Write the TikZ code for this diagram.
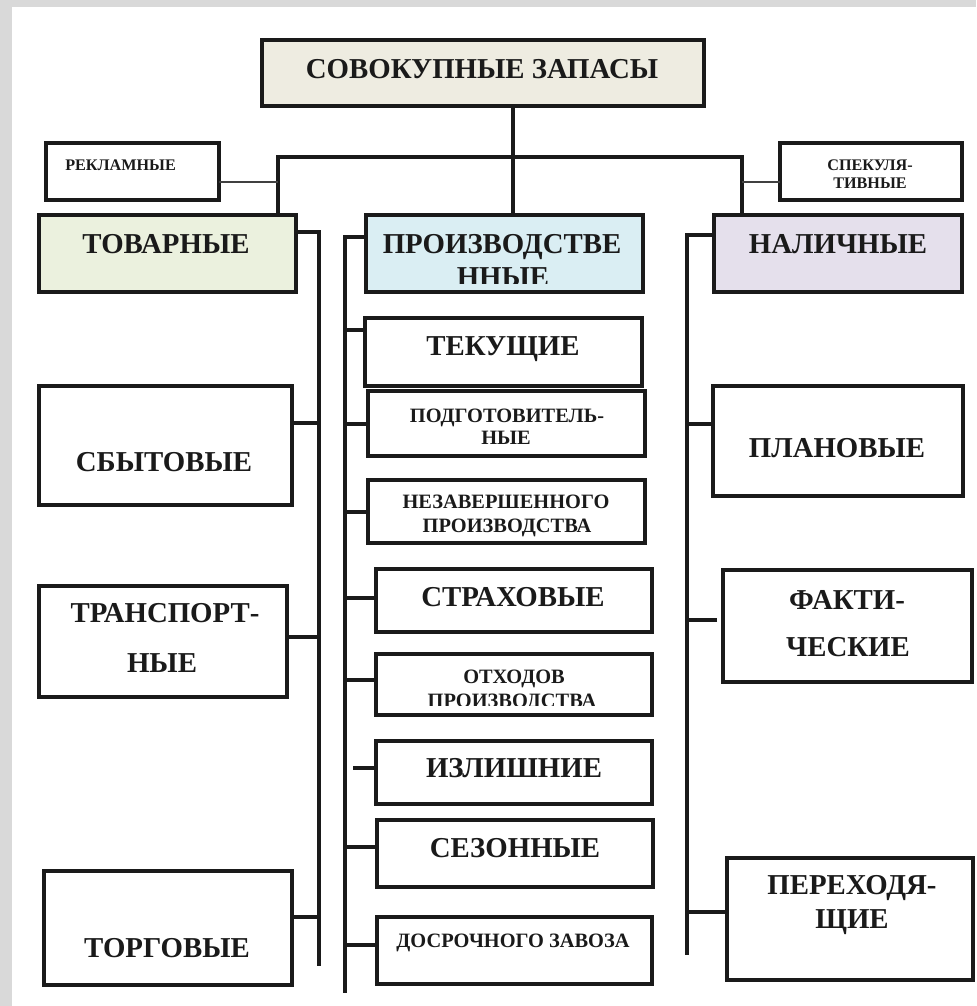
\documentclass[tikz,border=0pt]{standalone}
\usepackage{fontspec}
\setmainfont{Liberation Serif}
\definecolor{frame}{HTML}{D9D9D9}
\definecolor{topfill}{HTML}{EEECE1}
\definecolor{greenfill}{HTML}{EBF1DE}
\definecolor{bluefill}{HTML}{DAEEF3}
\definecolor{lilacfill}{HTML}{E5E0EC}
\definecolor{ink}{HTML}{1A1A1A}
\newcommand\mybox[6]{%
  \node[#6, minimum width={(#4-#2)*0.025cm}, minimum height={(#5-#3)*0.025cm}] (#1) at ({(#2+#4)/2},{(#3+#5)/2}) {};}
\tikzset{
  boxframe/.style={draw=ink, line width=2.4pt, rectangle, inner sep=0pt, outer sep=0pt},
  smallframe/.style={draw=ink, line width=2.2pt, rectangle, inner sep=0pt, outer sep=0pt},
  big/.style={text=ink, inner sep=0pt, anchor=base, font=\bfseries\fontsize{20.5}{22}\selectfont},
  mid/.style={text=ink, inner sep=0pt, anchor=base, font=\bfseries\fontsize{14.5}{16}\selectfont},
  tiny/.style={text=ink, inner sep=0pt, anchor=base, font=\bfseries\fontsize{11.5}{13}\selectfont},
  trunk/.style={draw=ink, line width=2.5pt},
  thinlink/.style={draw=black!75, line width=1.3pt}
}
\begin{document}
\begin{tikzpicture}[x=0.025cm,y=-0.025cm]
\useasboundingbox (0,0) rectangle (976,1006);
\fill[white] (0,0) rectangle (976,1006);
\fill[frame] (0,0) rectangle (12,1006);
\fill[frame] (0,0) rectangle (976,7);

% ---------- boxes ----------
\mybox{top}{262}{40}{704}{106}{boxframe, fill=topfill}
\mybox{rek}{46}{143}{219}{200}{smallframe}
\mybox{spek}{780}{143}{962}{200}{smallframe}
\mybox{tov}{39}{215}{296}{292}{boxframe, fill=greenfill}
\mybox{prod}{366}{215}{643}{292}{boxframe, fill=bluefill}
\mybox{nal}{714}{215}{962}{292}{boxframe, fill=lilacfill}

\mybox{sbyt}{39}{386}{292}{505}{boxframe}
\mybox{trans}{39}{586}{287}{697}{boxframe}
\mybox{torg}{44}{871}{292}{985}{boxframe}

\mybox{tek}{365}{318}{642}{386}{boxframe}
\mybox{podg}{368}{391}{645}{456}{boxframe}
\mybox{nezav}{368}{480}{645}{543}{boxframe}
\mybox{strah}{376}{569}{652}{632}{boxframe}
\mybox{oth}{376}{654}{652}{715}{boxframe}
\mybox{izl}{376}{741}{652}{804}{boxframe}
\mybox{sez}{377}{820}{653}{887}{boxframe}
\mybox{dosr}{377}{917}{652}{984}{boxframe}

\mybox{plan}{713}{386}{963}{496}{boxframe}
\mybox{fakt}{723}{570}{972}{682}{boxframe}
\mybox{pereh}{727}{858}{973}{980}{boxframe}

% ---------- texts ----------
\node[big] (ttop) at (482,78) {СОВОКУПНЫЕ ЗАПАСЫ};
\node[tiny, anchor=base west] (trek) at (65,170) {РЕКЛАМНЫЕ};
\node[tiny] (tspek1) at (870,170) {СПЕКУЛЯ-};
\node[tiny] (tspek2) at (870,188) {ТИВНЫЕ};
\node[big] (ttov) at (166,253) {ТОВАРНЫЕ};
\node[big] (tprod1) at (502,253) {ПРОИЗВОДСТВЕ};
\begin{scope}
\clip (366,260) rectangle (643,283);
\node[big] (tprod2) at (503,286) {ННЫЕ};
\end{scope}
\node[big] (tnal) at (838,253) {НАЛИЧНЫЕ};

\node[big] (tsbyt) at (164,471) {СБЫТОВЫЕ};
\node[big] (ttrans1) at (165,622) {ТРАНСПОРТ-};
\node[big] (ttrans2) at (162,672) {НЫЕ};
\node[big] (ttorg) at (167,957) {ТОРГОВЫЕ};

\node[big] (ttek) at (503,355) {ТЕКУЩИЕ};
\node[mid] (tpodg1) at (507,422) {ПОДГОТОВИТЕЛЬ-};
\node[mid] (tpodg2) at (506,444) {НЫЕ};
\node[mid] (tnez1) at (506,508) {НЕЗАВЕРШЕННОГО};
\node[mid] (tnez2) at (507,532) {ПРОИЗВОДСТВА};
\node[big] (tstrah) at (513,606) {СТРАХОВЫЕ};
\node[mid] (toth1) at (514,683) {ОТХОДОВ};
\begin{scope}
\clip (376,690) rectangle (652,705);
\node[mid] (toth2) at (512,707) {ПРОИЗВОДСТВА};
\end{scope}
\node[big] (tizl) at (514,777) {ИЗЛИШНИЕ};
\node[big] (tsez) at (515,857) {СЕЗОННЫЕ};
\node[mid] (tdosr) at (513,947) {ДОСРОЧНОГО ЗАВОЗА};

\node[big] (tplan) at (837,457) {ПЛАНОВЫЕ};
\node[big] (tfakt1) at (847,609) {ФАКТИ-};
\node[big] (tfakt2) at (848,656) {ЧЕСКИЕ};
\node[big] (tpereh1) at (852,894) {ПЕРЕХОДЯ-};
\node[big] (tpereh2) at (852,928) {ЩИЕ};

% ---------- connectors ----------
\coordinate (hub) at (513,157);
\coordinate (hl) at (278,157);
\coordinate (hr) at (742,157);
\draw[trunk] (top.south -| hub) -- (hub |- prod.north);
\draw[trunk] (tov.north -| hl) -- (hl) -- (hr) -- (nal.north -| hr);
\draw[thinlink] (rek.east |- 0,182) -- (hl |- 0,182);
\draw[thinlink] (spek.west |- 0,182) -- (hr |- 0,182);

% left trunk
\coordinate (lt) at (319,232);
\coordinate (lb) at (319,966);
\draw[trunk] (tov.east |- lt) -- (lt) -- (lb);
\draw[trunk] (sbyt.east |- 0,423) -- (lt |- 0,423);
\draw[trunk] (trans.east |- 0,637) -- (lt |- 0,637);
\draw[trunk] (torg.east |- 0,917) -- (lt |- 0,917);

% middle trunk
\coordinate (mt) at (345,237);
\coordinate (mb) at (345,993);
\draw[trunk] (prod.west |- mt) -- (mt) -- (mb);
\draw[trunk] (tek.west |- 0,330) -- (mt |- 0,330);
\draw[trunk] (podg.west |- 0,424) -- (mt |- 0,424);
\draw[trunk] (nezav.west |- 0,512) -- (mt |- 0,512);
\draw[trunk] (strah.west |- 0,598) -- (mt |- 0,598);
\draw[trunk] (oth.west |- 0,680) -- (mt |- 0,680);
\coordinate (izlgap) at (353,768);
\draw[trunk] (izl.west |- izlgap) -- (izlgap);
\draw[trunk] (sez.west |- 0,847) -- (mt |- 0,847);
\draw[trunk] (dosr.west |- 0,945) -- (mt |- 0,945);

% right trunk
\coordinate (rt) at (687,235);
\coordinate (rb) at (687,955);
\draw[trunk] (nal.west |- rt) -- (rt) -- (rb);
\draw[trunk] (plan.west |- 0,424) -- (rt |- 0,424);
\coordinate (faktgap) at (717,620);
\draw[trunk] (faktgap) -- (rt |- faktgap);
\draw[trunk] (pereh.west |- 0,912) -- (rt |- 0,912);
\end{tikzpicture}
\end{document}
